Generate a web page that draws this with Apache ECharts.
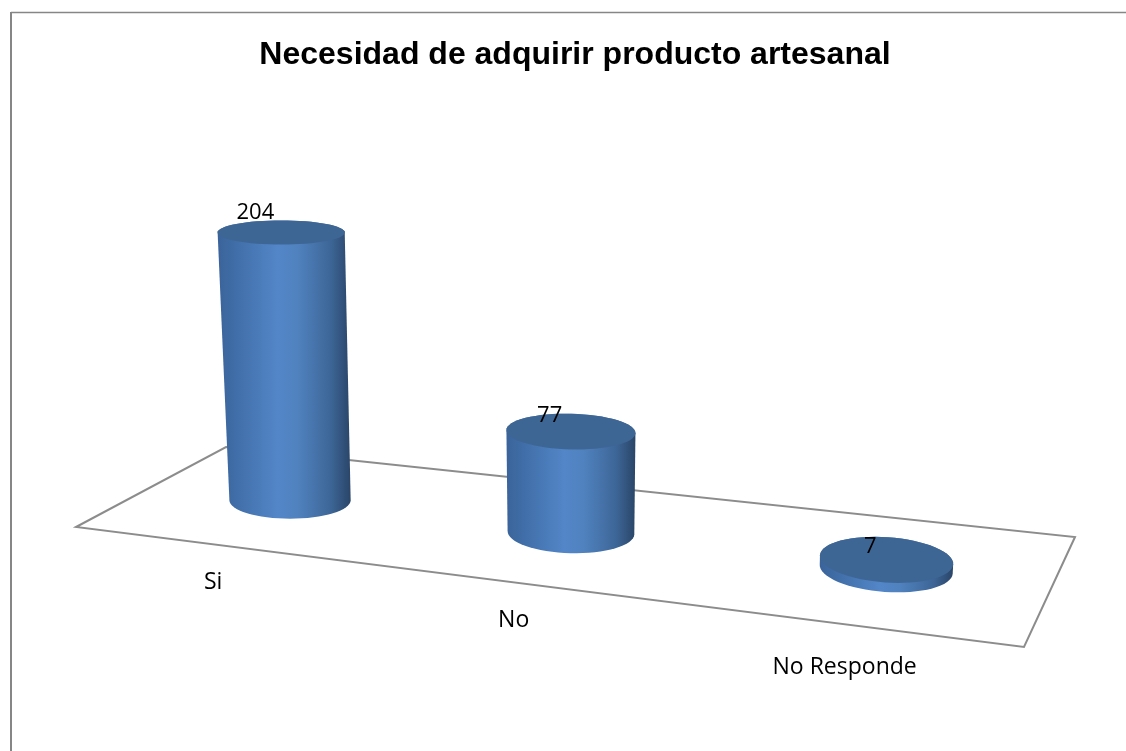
<!DOCTYPE html>
<html><head><meta charset="utf-8">
<style>html,body{margin:0;padding:0;background:#fff}#c{width:1126px;height:751px}</style>
<script src="https://cdn.jsdelivr.net/npm/echarts@6/dist/echarts.min.js"></script>
</head><body><div id="c"></div>
<script>
const titleText = 'Necesidad de adquirir producto artesanal';
const categories = ['Si', 'No', 'No Responde'];
const values = [204, 77, 7];

// floor quad in screen space: back-left, back-right, front-right, front-left
const Q = [[226,447],[1075,537],[1024,647],[76,527]];
const dx1=Q[1][0]-Q[2][0], dx2=Q[3][0]-Q[2][0], sx=Q[0][0]-Q[1][0]+Q[2][0]-Q[3][0];
const dy1=Q[1][1]-Q[2][1], dy2=Q[3][1]-Q[2][1], sy=Q[0][1]-Q[1][1]+Q[2][1]-Q[3][1];
const den=dx1*dy2-dx2*dy1;
const g=(sx*dy2-dx2*sy)/den, h_=(dx1*sy-sx*dy1)/den;
const A=Q[1][0]-Q[0][0]+g*Q[1][0], B=Q[3][0]-Q[0][0]+h_*Q[3][0], C=Q[0][0];
const D=Q[1][1]-Q[0][1]+g*Q[1][1], E=Q[3][1]-Q[0][1]+h_*Q[3][1], F=Q[0][1];
function proj(u,w){const k=g*u+h_*w+1;return [(A*u+B*w+C)/k,(D*u+E*w+F)/k];}

const G={left:100,top:100,width:900,height:328};
const sideGrad={type:'linear',x:0,y:0,x2:1,y2:0,colorStops:[
 {offset:0,color:'#3a639a'},{offset:.15,color:'#416fa9'},{offset:.45,color:'#5386c8'},
 {offset:.6,color:'#5082bf'},{offset:.85,color:'#3d6697'},{offset:1,color:'#2a4568'}]};
const VALUE_FONT='22px "Open Sans"', CAT_FONT='23px "Open Sans"';
const clamp=(x)=>Math.max(0,Math.min(1,x));

function ell(cx,cy,rx,ry,rot,t0,t1,n){const p=[];for(let i=0;i<=n;i++){const t=t0+(t1-t0)*i/n;
 const x=rx*Math.cos(t),y=ry*Math.sin(t);
 p.push([cx+x*Math.cos(rot)-y*Math.sin(rot),cy+x*Math.sin(rot)+y*Math.cos(rot)]);}return p;}

function renderCyl(params,api){
 const i=api.value(0), v=api.value(1);
 const top=api.coord([i,v]), zero=api.coord([i,0]);
 const u=(zero[0]-G.left)/G.width+0.007, h=zero[1]-top[1];
 const b=proj(u,0.5);
 const local=(proj(u+.14,.5)[0]-proj(u,.5)[0])*0.5;
 const rxB=63+(local-63)*0.4;
 const ryB=0.22*(proj(u,1)[1]-proj(u,0)[1]);
 const rot=clamp((b[0]-400)/485)*4*Math.PI/180;
 const tx=b[0]+(b[0]-573)*1.17e-4*h, ty=b[1]-h;
 const rxT=rxB*(1+h*0.00018), ryT=ryB*(1-h*0.0013);
 const base=ell(b[0],b[1],rxB,ryB,rot,0,Math.PI,32);
 const back=ell(tx,ty,rxT,ryT,rot,Math.PI,2*Math.PI,32);
 const front=ell(tx,ty,rxT,ryT,rot,0,Math.PI,32);
 const side=base.concat(back);
 const f=proj(u+0.001,1);
 const lx=f[0]-7*clamp(1-u/0.5)-4*clamp((u-.5)/.33), ly=f[1]+37.5+5.5*clamp((u-.5)/.33);
 return {type:'group',children:[
  {type:'polygon',shape:{points:side},style:{fill:sideGrad}},
  {type:'polygon',shape:{points:back.concat(front)},style:{fill:'#3e6695'}},
  {type:'text',x:tx-(15+0.72*Math.sqrt(h))+1,y:ty-(13+h*0.026),style:{text:String(v),fill:'#000',font:VALUE_FONT,align:'center',verticalAlign:'middle'}},
  {type:'text',x:lx,y:ly,style:{text:categories[i],fill:'#000',font:CAT_FONT,align:'center',verticalAlign:'middle'}}
 ]};
}
function renderFloor(){
 const pts=[[0,0],[1,0],[1,1],[0,1]].map(p=>proj(p[0],p[1]));
 return {type:'polygon',shape:{points:pts},style:{fill:'none',stroke:'#8c8c8c',lineWidth:2}};
}
const chart=echarts.init(document.getElementById('c'));
chart.setOption({
 animation:false,backgroundColor:'#fff',
 title:{text:titleText,left:570,top:50,textAlign:'center',textVerticalAlign:'middle',
  textStyle:{fontFamily:'Liberation Sans',fontWeight:'bold',fontSize:32,color:'#000'}},
 grid:G,
 xAxis:{type:'category',data:categories,show:false},
 yAxis:{type:'value',min:0,max:250,show:false},
 graphic:[
  {type:'line',shape:{x1:11,y1:12.5,x2:1126,y2:12.5},style:{stroke:'#868686',lineWidth:1.5},silent:true},
  {type:'line',shape:{x1:11,y1:12,x2:11,y2:751},style:{stroke:'#868686',lineWidth:2},silent:true}
 ],
 series:[
  {type:'custom',coordinateSystem:'none',data:[0],renderItem:renderFloor,z:1,silent:true},
  {type:'custom',coordinateSystem:'cartesian2d',data:values.map((v,i)=>[i,v]),encode:{x:0,y:1},renderItem:renderCyl,z:2,silent:true}
 ]
});
</script></body></html>
